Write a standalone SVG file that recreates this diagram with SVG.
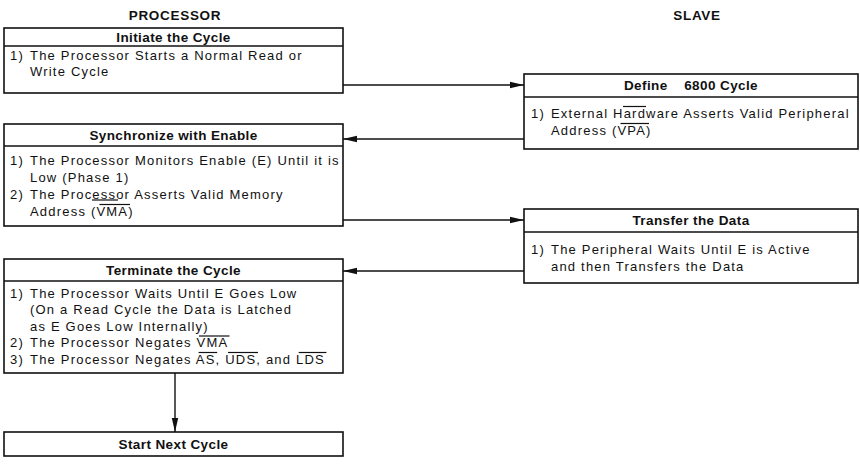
<svg xmlns="http://www.w3.org/2000/svg" width="860" height="469" viewBox="0 0 860 469">
  <style>
    .box { fill: #fff; stroke: #111; stroke-width: 1.6; }
    .div { stroke: #111; stroke-width: 1.4; }
    .col { font-family: "Liberation Sans", Arial, sans-serif; font-size: 13.5px; font-weight: bold; fill: #111; text-anchor: middle; letter-spacing: 0.7px; }
    .ttl { font-family: "Liberation Sans", Arial, sans-serif; font-size: 13.5px; font-weight: bold; fill: #111; text-anchor: middle; letter-spacing: 0.4px; }
    .txt { font-family: "Liberation Sans", Arial, sans-serif; font-size: 13px; fill: #111; letter-spacing: 1.2px; }
    .bar { stroke: #111; stroke-width: 1.2; }
    .wire { fill: none; stroke: #111; stroke-width: 1.4; }
  </style>
  <defs>
    <marker id="head" viewBox="0 0 14 8" refX="14" refY="4" markerWidth="14" markerHeight="8" markerUnits="userSpaceOnUse" orient="auto">
      <path d="M0,0.8 L14,4 L0,7.2 Z" fill="#111"/>
    </marker>
  </defs>

  <!-- column headings -->
  <text class="col" x="175" y="19.5">PROCESSOR</text>
  <text class="col" x="697" y="19.5">SLAVE</text>

  <!-- processor: initiate -->
  <g id="initiate">
    <rect class="box" x="4" y="28" width="339" height="65"/>
    <line class="div" x1="4" y1="46" x2="343" y2="46"/>
    <text class="ttl" x="173.5" y="41.5">Initiate the Cycle</text>
    <text class="txt" x="10" y="59.5">1)</text>
    <text class="txt" x="30" y="59.5">The Processor Starts a Normal Read or</text>
    <text class="txt" x="30" y="75.5">Write Cycle</text>
  </g>

  <!-- slave: define 6800 cycle -->
  <g id="define">
    <rect class="box" x="524" y="74" width="334" height="75"/>
    <line class="div" x1="524" y1="97" x2="858" y2="97"/>
    <text class="ttl" x="691" y="90" xml:space="preserve">Define    6800 Cycle</text>
    <text class="txt" x="531" y="117.5">1)</text>
    <text class="txt" x="551" y="117.5">External Hardware Asserts Valid Peripheral</text>
    <text class="txt" x="551" y="134.5">Address (VPA)</text>
    <!-- active-low bar over VPA, plus the stray bar printed above "Hardware" -->
    <line class="bar" x1="620.5" y1="123.5" x2="649" y2="123.5"/>
    <line class="bar" x1="623" y1="106.5" x2="646" y2="106.5"/>
  </g>

  <!-- processor: synchronize -->
  <g id="synchronize">
    <rect class="box" x="4" y="124" width="339" height="102"/>
    <line class="div" x1="4" y1="146" x2="343" y2="146"/>
    <text class="ttl" x="173.5" y="139.5">Synchronize with Enable</text>
    <text class="txt" x="10" y="164.5">1)</text>
    <text class="txt" x="30" y="164.5">The Processor Monitors Enable (E) Until it is</text>
    <text class="txt" x="30" y="181.5">Low (Phase 1)</text>
    <text class="txt" x="10" y="198.5">2)</text>
    <text class="txt" x="30" y="198.5">The Processor Asserts Valid Memory</text>
    <text class="txt" x="30" y="215.5">Address (VMA)</text>
    <!-- bar over VMA, plus the stray bar under "Processor" -->
    <line class="bar" x1="99.5" y1="204.5" x2="130" y2="204.5"/>
    <line class="bar" x1="92" y1="200" x2="118" y2="200"/>
  </g>

  <!-- slave: transfer -->
  <g id="transfer">
    <rect class="box" x="524" y="209" width="334" height="74"/>
    <line class="div" x1="524" y1="232" x2="858" y2="232"/>
    <text class="ttl" x="691" y="225">Transfer the Data</text>
    <text class="txt" x="531" y="253.5">1)</text>
    <text class="txt" x="551" y="253.5">The Peripheral Waits Until E is Active</text>
    <text class="txt" x="551" y="270.5">and then Transfers the Data</text>
  </g>

  <!-- processor: terminate -->
  <g id="terminate">
    <rect class="box" x="4" y="259" width="339" height="114"/>
    <line class="div" x1="4" y1="281" x2="343" y2="281"/>
    <text class="ttl" x="173.5" y="275">Terminate the Cycle</text>
    <text class="txt" x="10" y="297.5">1)</text>
    <text class="txt" x="30" y="297.5">The Processor Waits Until E Goes Low</text>
    <text class="txt" x="30" y="314">(On a Read Cycle the Data is Latched</text>
    <text class="txt" x="30" y="330.5">as E Goes Low Internally)</text>
    <text class="txt" x="10" y="347">2)</text>
    <text class="txt" x="30" y="347">The Processor Negates VMA</text>
    <text class="txt" x="10" y="363.5">3)</text>
    <text class="txt" x="30" y="363.5">The Processor Negates AS, UDS, and LDS</text>
    <!-- active-low bars -->
    <line class="bar" x1="199" y1="336" x2="229.5" y2="336"/>
    <line class="bar" x1="198.6" y1="352.5" x2="217.2" y2="352.5"/>
    <line class="bar" x1="228" y1="352.5" x2="258" y2="352.5"/>
    <line class="bar" x1="298.7" y1="352.5" x2="326.4" y2="352.5"/>
  </g>

  <!-- processor: next cycle -->
  <g id="next">
    <rect class="box" x="4" y="432" width="339" height="24"/>
    <text class="ttl" x="173.5" y="449">Start Next Cycle</text>
  </g>

  <!-- connectors -->
  <g id="connectors">
    <line class="wire" x1="343" y1="85" x2="524" y2="85" marker-end="url(#head)"/>
    <line class="wire" x1="524" y1="139" x2="343" y2="139" marker-end="url(#head)"/>
    <line class="wire" x1="343" y1="220" x2="524" y2="220" marker-end="url(#head)"/>
    <line class="wire" x1="524" y1="271" x2="343" y2="271" marker-end="url(#head)"/>
    <line class="wire" x1="175" y1="373" x2="175" y2="432" marker-end="url(#head)"/>
  </g>
</svg>
